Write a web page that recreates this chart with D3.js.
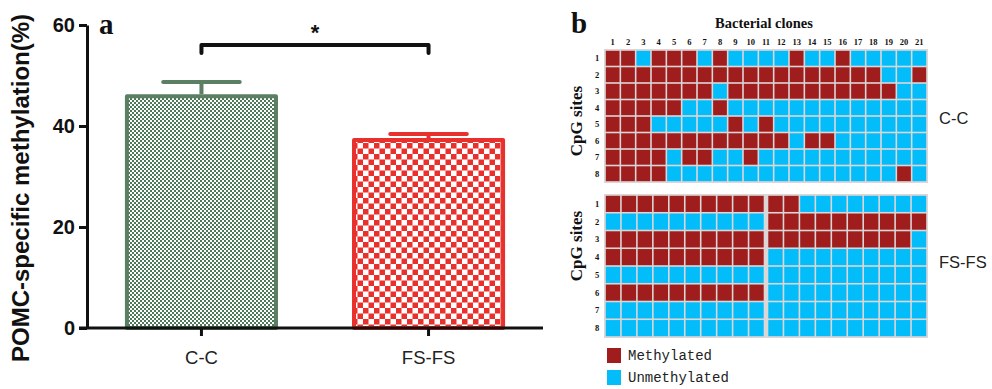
<!DOCTYPE html>
<html>
<head>
<meta charset="utf-8">
<script src="https://cdn.jsdelivr.net/npm/d3@7"></script>
<style>
  body { margin: 0; background: #fff; }
  svg { display: block; }
</style>
</head>
<body>
<svg id="chart" width="992" height="389"></svg>
<script>
// panel a data
const groups = ['C-C', 'FS-FS'];
const meanValues = [46.3, 37.6];
const errValues = [2.4, 0.8];
const yTicks = [0, 20, 40, 60];

// panel b data (1 = methylated, 0 = unmethylated), rows = CpG sites 1..8
const cpgSites = ['1', '2', '3', '4', '5', '6', '7', '8'];
const clonesCC = ['1','2','3','4','5','6','7','8','9','10','11','12','13','14','15','16','17','18','19','20','21'];
const clonesFS = ['1','2','3','4','5','6','7','8','9','10','11','12','13','14','15','16','17','18','19','20'];
const methCC = [
  '110111010000100100000',
  '111111111111111111001',
  '111111101111111111100',
  '111110010000000000000',
  '111000001010000000000',
  '111111111111011000000',
  '111101100100000000000',
  '111100000000000000010'
];
const methFS = [
  '11111111111100000000',
  '00000000001111111111',
  '11111111111111111110',
  '11111111110000000000',
  '00000000000000000000',
  '11111111110000000000',
  '00000000000000000000',
  '00000000000000000000'
];
const legendLabels = ['Methylated', 'Unmethylated'];

const svg = d3.select('#chart');
const defs = svg.append('defs');

const green = '#4e7959';
const greenEdge = '#5a7f62';
const red = '#e8302c';
const methColor = '#a01d1d';
const unmethColor = '#03bdfb';

// fill patterns
const pg = defs.append('pattern').attr('id', 'pGreen')
    .attr('patternUnits', 'userSpaceOnUse').attr('width', 4).attr('height', 4);
pg.append('rect').attr('width', 4).attr('height', 4).attr('fill', '#fff');
pg.append('rect').attr('width', 2).attr('height', 2).attr('fill', green);
pg.append('rect').attr('x', 2).attr('y', 2).attr('width', 2).attr('height', 2).attr('fill', green);

const pr = defs.append('pattern').attr('id', 'pRed')
    .attr('patternUnits', 'userSpaceOnUse').attr('width', 11).attr('height', 11);
pr.append('rect').attr('width', 11).attr('height', 11).attr('fill', '#fff');
pr.append('rect').attr('width', 5.5).attr('height', 5.5).attr('fill', red);
pr.append('rect').attr('x', 5.5).attr('y', 5.5).attr('width', 5.5).attr('height', 5.5).attr('fill', red);

// ---------- panel a ----------
const a = svg.append('g');
const axisX = 87;
const x = d3.scaleBand()
    .domain(groups)
    .range([axisX, 543])
    .paddingInner(0.326)
    .paddingOuter(0.167);
const y = d3.scaleLinear().domain([0, 60]).range([328, 25]);

const fills = ['url(#pGreen)', 'url(#pRed)'];
const edges = [greenEdge, red];

// error bars (drawn first, bar edge covers the stem)
groups.forEach((g, i) => {
  const cx = x(g) + x.bandwidth() / 2;
  const top = y(meanValues[i] + errValues[i]);
  a.append('line')
      .attr('x1', cx).attr('x2', cx)
      .attr('y1', y(meanValues[i])).attr('y2', top)
      .attr('stroke', edges[i]).attr('stroke-width', 4);
  a.append('line')
      .attr('x1', cx - x.bandwidth() * 0.25).attr('x2', cx + x.bandwidth() * 0.25)
      .attr('y1', top).attr('y2', top)
      .attr('stroke', edges[i]).attr('stroke-width', 4)
      .attr('stroke-linecap', 'round');
});

a.selectAll('rect.bar')
    .data(groups)
    .enter()
    .append('rect')
    .attr('class', 'bar')
    .attr('x', d => x(d) + 2)
    .attr('y', (d, i) => y(meanValues[i]) + 2)
    .attr('width', x.bandwidth() - 4)
    .attr('height', (d, i) => y(0) - y(meanValues[i]) - 2)
    .attr('fill', (d, i) => fills[i])
    .attr('stroke', (d, i) => edges[i])
    .attr('stroke-width', 4)
    .attr('stroke-linejoin', 'round');

// y axis
const yAxis = a.append('g')
    .attr('transform', 'translate(' + axisX + ',0)')
    .call(d3.axisLeft(y).tickValues(yTicks).tickSize(8).tickPadding(4).tickSizeOuter(0));
yAxis.select('.domain').attr('stroke-width', 3).attr('stroke', '#111');
yAxis.selectAll('.tick line').attr('stroke-width', 3).attr('stroke', '#111');
yAxis.selectAll('text')
    .style('font-family', '"Liberation Sans", Arial, sans-serif')
    .style('font-weight', 'bold')
    .style('font-size', '20px')
    .attr('fill', '#111');

// x axis
const xAxis = a.append('g')
    .attr('transform', 'translate(0,' + y(0) + ')')
    .call(d3.axisBottom(x).tickSize(8).tickPadding(15).tickSizeOuter(0));
xAxis.select('.domain').remove();
xAxis.append('line')
    .attr('x1', axisX - 8).attr('x2', 543)
    .attr('stroke', '#111').attr('stroke-width', 3);
xAxis.selectAll('.tick line').attr('stroke-width', 3).attr('stroke', '#111');
xAxis.selectAll('text')
    .style('font-family', '"Liberation Sans", Arial, sans-serif')
    .style('font-size', '18.5px')
    .attr('fill', '#222');

// y title
a.append('text')
    .attr('transform', 'translate(29,188) rotate(-90)')
    .attr('text-anchor', 'middle')
    .style('font-family', '"Liberation Sans", Arial, sans-serif')
    .style('font-weight', 'bold')
    .style('font-size', '24px')
    .attr('fill', '#111')
    .text('POMC-specific methylation(%)');

// panel letter
a.append('text')
    .attr('x', 99).attr('y', 34)
    .style('font-family', '"Liberation Serif", "Times New Roman", serif')
    .style('font-weight', 'bold')
    .style('font-size', '29px')
    .attr('fill', '#111')
    .text('a');

// significance bracket
const bx1 = x(groups[0]) + x.bandwidth() / 2;
const bx2 = x(groups[1]) + x.bandwidth() / 2;
a.append('path')
    .attr('d', 'M' + bx1 + ',53V45H' + bx2 + 'V53')
    .attr('fill', 'none')
    .attr('stroke', '#111')
    .attr('stroke-width', 4)
    .attr('stroke-linejoin', 'round')
    .attr('stroke-linecap', 'round');
a.append('text')
    .attr('x', (bx1 + bx2) / 2).attr('y', 40)
    .attr('text-anchor', 'middle')
    .style('font-family', '"Liberation Sans", Arial, sans-serif')
    .style('font-weight', 'bold')
    .style('font-size', '22px')
    .attr('fill', '#111')
    .text('*');

// ---------- panel b ----------
const b = svg.append('g');
const serif = '"Liberation Serif", "Times New Roman", serif';

b.append('text')
    .attr('x', 571).attr('y', 33)
    .style('font-family', serif).style('font-weight', 'bold').style('font-size', '29px')
    .attr('fill', '#111').text('b');

b.append('text')
    .attr('x', 764).attr('y', 28)
    .attr('text-anchor', 'middle')
    .style('font-family', serif).style('font-weight', 'bold').style('font-size', '14.5px')
    .attr('fill', '#111').text('Bacterial clones');

function drawMap(g, clones, rows, top, bottom, gapAfter, gap, name, nameY, titleY, showCols) {
  const left = 605, right = 927;
  const cx = d3.scaleBand().domain(clones).range([left, right - gap]);
  const cy = d3.scaleBand().domain(cpgSites).range([top, bottom]);
  const xPos = d => cx(d) + (clones.indexOf(d) >= gapAfter ? gap : 0);

  g.append('rect')
      .attr('x', left - 1).attr('y', top - 1)
      .attr('width', right - left + 2).attr('height', bottom - top + 2)
      .attr('fill', '#dcd6d6');

  const cells = [];
  rows.forEach((r, i) => {
    clones.forEach((c, j) => cells.push({ site: cpgSites[i], clone: c, m: r[j] === '1' }));
  });
  g.selectAll(null)
      .data(cells)
      .enter()
      .append('rect')
      .attr('x', d => xPos(d.clone) + 0.8)
      .attr('y', d => cy(d.site) + 0.8)
      .attr('width', cx.bandwidth() - 1.6)
      .attr('height', cy.bandwidth() - 1.6)
      .attr('fill', d => d.m ? methColor : unmethColor);

  if (showCols) {
    g.selectAll(null)
        .data(clones)
        .enter()
        .append('text')
        .attr('x', d => xPos(d) + cx.bandwidth() / 2)
        .attr('y', top - 5)
        .attr('text-anchor', 'middle')
        .style('font-family', serif).style('font-weight', 'bold').style('font-size', '8.5px')
        .attr('fill', '#111')
        .text(d => d);
  }
  g.selectAll(null)
      .data(cpgSites)
      .enter()
      .append('text')
      .attr('x', 597)
      .attr('y', d => cy(d) + cy.bandwidth() / 2 + 3)
      .attr('text-anchor', 'middle')
      .style('font-family', serif).style('font-weight', 'bold').style('font-size', '8.5px')
      .attr('fill', '#111')
      .text(d => d);

  g.append('text')
      .attr('transform', 'translate(582,' + titleY + ') rotate(-90)')
      .attr('text-anchor', 'middle')
      .style('font-family', serif).style('font-weight', 'bold').style('font-size', '17px')
      .attr('fill', '#111')
      .text('CpG sites');

  g.append('text')
      .attr('x', 939).attr('y', nameY)
      .style('font-family', '"Liberation Sans", Arial, sans-serif')
      .style('font-size', '16.5px')
      .attr('fill', '#222')
      .text(name);
}

drawMap(b.append('g'), clonesCC, methCC, 50, 182, 99, 0, groups[0], 124, 121, true);
drawMap(b.append('g'), clonesFS, methFS, 195, 337, 10, 3, groups[1], 268, 246, false);

// legend
const leg = b.selectAll('g.leg')
    .data(legendLabels)
    .enter()
    .append('g')
    .attr('class', 'leg')
    .attr('transform', (d, i) => 'translate(607,' + (348 + i * 22) + ')');
leg.append('rect')
    .attr('width', 14).attr('height', 15)
    .attr('fill', (d, i) => i === 0 ? methColor : unmethColor);
leg.append('text')
    .attr('x', 21).attr('y', 12)
    .style('font-family', '"Liberation Mono", "DejaVu Sans Mono", monospace')
    .style('font-size', '14px')
    .attr('fill', '#222')
    .text(d => d);
</script>
</body>
</html>
